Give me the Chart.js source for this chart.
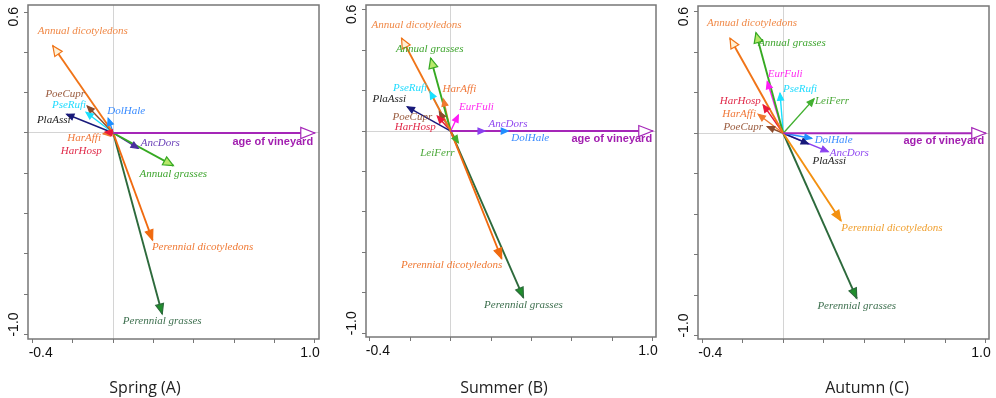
<!DOCTYPE html>
<html><head><meta charset="utf-8">
<script src="https://cdn.jsdelivr.net/npm/chart.js@4.4.1/dist/chart.umd.min.js"></script>
<style>
html,body{margin:0;padding:0;background:#fff;}
#wrap{position:relative;width:996px;height:398px;overflow:hidden;background:#fff;}
canvas{position:absolute;top:0;}
.ttl{position:absolute;top:375px;width:160px;text-align:center;font-family:'Open Sans',sans-serif;font-size:16px;color:#222;line-height:24px;}
</style></head><body>
<div id="wrap">
<canvas id="cA" width="330" height="398" style="left:0px"></canvas>
<canvas id="cB" width="330" height="398" style="left:330px"></canvas>
<canvas id="cC" width="336" height="398" style="left:660px"></canvas>
<div class="ttl" style="left:65px">Spring (A)</div>
<div class="ttl" style="left:424px">Summer (B)</div>
<div class="ttl" style="left:787px">Autumn (C)</div>
</div>
<script>
// ---------- DATA ----------
const xTicks = [-0.4, -0.2, 0.0, 0.2, 0.4, 0.6, 0.8, 1.0];
const yTicks = [-1.0, -0.8, -0.6, -0.4, -0.2, 0.0, 0.2, 0.4, 0.6];
const xTickLabels = [-0.4, 1.0];
const yTickLabels = [0.6, -1.0];

const springNames = ['age of vineyard','Annual dicotyledons','Annual grasses','Perennial dicotyledons','Perennial grasses','PoeCupr','PseRufi','DolHale','PlaAssi','HarAffi','HarHosp','AncDors'];
const springX = [1.0, -0.30, 0.298, 0.195, 0.243, -0.129, -0.135, -0.025, -0.231, -0.05, -0.04, 0.124];
const springY = [0.0, 0.433, -0.162, -0.531, -0.898, 0.134, 0.103, 0.073, 0.093, -0.004, 0.004, -0.076];

const summerNames = ['age of vineyard','Annual dicotyledons','Annual grasses','Perennial dicotyledons','Perennial grasses','PseRufi','HarAffi','PlaAssi','EurFuli','PoeCupr','HarHosp','AncDors','DolHale','LeiFerr'];
const summerX = [1.0, -0.243, -0.099, 0.252, 0.36, -0.102, -0.036, -0.215, 0.038, -0.056, -0.066, 0.17, 0.285, 0.038];
const summerY = [0.0, 0.459, 0.36, -0.63, -0.823, 0.195, 0.158, 0.12, 0.079, 0.096, 0.074, 0.0, 0.0, -0.058];

const autumnNames = ['age of vineyard','Annual dicotyledons','Annual grasses','Perennial dicotyledons','Perennial grasses','EurFuli','PseRufi','LeiFerr','HarHosp','HarAffi','PoeCupr','DolHale','PlaAssi','AncDors'];
const autumnX = [1.0, -0.263, -0.135, 0.285, 0.363, -0.079, -0.016, 0.152, -0.099, -0.124, -0.079, 0.14, 0.124, 0.222];
const autumnY = [0.0, 0.47, 0.497, -0.432, -0.816, 0.255, 0.198, 0.17, 0.14, 0.094, 0.033, -0.025, -0.053, -0.091];

// ---------- LAYOUT / STYLE ----------
const springLabelOff = [[-42,9],[30,-15],[0,8],[50,7],[0,7],[-22,-12],[-17,-7],[18,-7],[-13,6],[-19,4],[-24,19],[22,-5]];
const summerLabelOff = [[-41,8],[15,-13],[-1,-9],[-50,7],[0,8],[-20,-3],[16,-10],[-18,-8],[18,-8],[-27,5],[-22,11],[23,-7],[22,7],[-21,10]];
const autumnLabelOff = [[-42,8],[22,-15],[36,10],[51,7],[0,8],[18,-8],[20,-4],[18,2],[-23,-4],[-19,0],[-24,1],[22,2],[21,17],[21,1]];

const SERIF = 'italic 11px "Liberation Serif", "Times New Roman", serif';
const baseStyles = {
  'age of vineyard': {line:'#a526b8', label:'#a21fb0', fill:'#ffffff', len:14, half:5.5, width:2, font:'bold 11px "Liberation Sans", Arial, sans-serif'},
  'Annual dicotyledons': {line:'#f07418', label:'#f08846', fill:'#fff1d6', len:10, half:4.5, width:1.9},
  'Annual grasses': {line:'#36a922', label:'#3ea52e', fill:'#b8e86a', len:10, half:4.5, width:1.9},
  'Perennial dicotyledons': {line:'#f06a10', label:'#f07a35', fill:'#f06a10', len:10, half:4, width:1.9},
  'Perennial grasses': {line:'#2d6a3c', label:'#3d6f4e', fill:'#1f8f2c', len:10, half:4, width:1.9},
  PoeCupr: {line:'#8b4a2b', label:'#9a5b3e'},
  PseRufi: {line:'#19e0ff', label:'#22dcff'},
  DolHale: {line:'#1f8fff', label:'#3a8cff'},
  PlaAssi: {line:'#18197a', label:'#222222'},
  HarAffi: {line:'#f07a30', label:'#f0783a'},
  HarHosp: {line:'#e8183c', label:'#e02848'},
  AncDors: {line:'#8a40f0', label:'#9048f0'},
  EurFuli: {line:'#ff1cf6', label:'#ff2cf0'},
  LeiFerr: {line:'#42b030', label:'#4aa838'}
};
const springOverride = {AncDors:{line:'#4b2f9e', label:'#6a40b8'}};
const summerOverride = {};
const autumnOverride = {'Perennial dicotyledons':{line:'#f39010', label:'#f0a030', fill:'#f39010'}};

function styleFor(name, ov){
  return Object.assign({len:7, half:3, width:1.4, font:SERIF}, baseStyles[name], ov[name] || {});
}

// ---------- PLUGINS ----------
const arrowPlugin = {
  id:'arrowHeads',
  afterDatasetsDraw(chart){
    const ctx = chart.ctx;
    const metas = chart.data.datasets.map((ds,i)=>chart.getDatasetMeta(i));
    chart.data.datasets.forEach((ds,i)=>{
      const a = metas[i].data[0], b = metas[i].data[1];
      const st = ds.st;
      const ang = Math.atan2(b.y-a.y, b.x-a.x);
      const bx = b.x - st.len*Math.cos(ang), by = b.y - st.len*Math.sin(ang);
      const px = -Math.sin(ang)*st.half, py = Math.cos(ang)*st.half;
      ctx.save();
      ctx.beginPath();
      ctx.moveTo(b.x,b.y); ctx.lineTo(bx+px,by+py); ctx.lineTo(bx-px,by-py); ctx.closePath();
      ctx.fillStyle = st.fill || st.line; ctx.fill();
      ctx.lineWidth = 1.2; ctx.strokeStyle = st.line; ctx.lineJoin='miter'; ctx.stroke();
      ctx.restore();
    });
    chart.data.datasets.forEach((ds,i)=>{
      const b = metas[i].data[1];
      const st = ds.st;
      ctx.save();
      ctx.font = st.font; ctx.fillStyle = st.label;
      ctx.textAlign = 'center'; ctx.textBaseline = 'middle';
      ctx.fillText(ds.label, b.x + ds.off[0], b.y + ds.off[1]);
      ctx.restore();
    });
  }
};

const framePlugin = {
  id:'frame',
  afterDraw(chart){
    const {ctx, chartArea:ca, scales} = chart;
    const x = scales.x, y = scales.y;
    ctx.save();
    ctx.strokeStyle = '#777777'; ctx.lineWidth = 1.5;
    ctx.strokeRect(ca.left, ca.top, ca.right-ca.left, ca.bottom-ca.top);
    ctx.fillStyle = '#111'; ctx.font = '14px "Liberation Sans", Arial, sans-serif';
    ctx.textBaseline = 'middle';
    ctx.textAlign = 'left';
    ctx.fillText(xTickLabels[0].toFixed(1), x.getPixelForValue(xTickLabels[0]) - 4, ca.bottom + 14);
    ctx.textAlign = 'right';
    ctx.fillText(xTickLabels[1].toFixed(1), x.getPixelForValue(xTickLabels[1]) + 5, ca.bottom + 14);
    // rotated y labels
    ctx.save();
    ctx.translate(ca.left - 14, y.getPixelForValue(yTickLabels[0]) - 5);
    ctx.rotate(-Math.PI/2); ctx.textAlign = 'right';
    ctx.fillText(yTickLabels[0].toFixed(1), 0, 0);
    ctx.restore();
    ctx.save();
    ctx.translate(ca.left - 14, y.getPixelForValue(yTickLabels[1]) + 2);
    ctx.rotate(-Math.PI/2); ctx.textAlign = 'left';
    ctx.fillText(yTickLabels[1].toFixed(1), 0, 0);
    ctx.restore();
    ctx.restore();
  }
};

function gridOpts(){
  return {
    drawOnChartArea:true, drawTicks:true, tickLength:4,
    color: c => (c.tick && Math.abs(c.tick.value) < 1e-9) ? '#d4d4d4' : 'rgba(0,0,0,0)',
    tickColor:'#777777', lineWidth:1, tickWidth:1
  };
}

function makePanel(id, names, xs, ys, offs, ov, lay){
  const datasets = names.map((n,i)=>{
    const st = styleFor(n, ov);
    return {
      label:n, data:[{x:0,y:0},{x:xs[i],y:ys[i]}],
      showLine:true, borderColor:st.line, borderWidth:st.width,
      pointRadius:0, pointHoverRadius:0, fill:false, tension:0,
      st:st, off:offs[i]
    };
  });
  return new Chart(document.getElementById(id), {
    type:'scatter',
    data:{datasets},
    options:{
      responsive:false, animation:false, devicePixelRatio:1,
      layout:{padding:{left:0, right:lay.r, top:lay.t, bottom:0}},
      plugins:{legend:{display:false}, tooltip:{enabled:false}},
      scales:{
        x:{type:'linear', min:lay.xmin, max:lay.xmax,
           afterBuildTicks: s => { s.ticks = xTicks.map(v=>({value:v})); },
           ticks:{display:false}, grid:gridOpts(), border:{display:false},
           afterFit: s => { s.height = lay.h; }},
        y:{type:'linear', min:lay.ymin, max:lay.ymax,
           afterBuildTicks: s => { s.ticks = yTicks.map(v=>({value:v})); },
           ticks:{display:false}, grid:gridOpts(), border:{display:false},
           afterFit: s => { s.width = lay.w; }}
      }
    },
    plugins:[arrowPlugin, framePlugin]
  });
}

makePanel('cA', springNames, springX, springY, springLabelOff, springOverride,
  {w:28, h:59, r:11, t:5, xmin:-0.423, xmax:1.021, ymin:-1.022, ymax:0.635});
makePanel('cB', summerNames, summerX, summerY, summerLabelOff, summerOverride,
  {w:36, h:61, r:4, t:5, xmin:-0.419, xmax:1.016, ymin:-1.018, ymax:0.623});
makePanel('cC', autumnNames, autumnX, autumnY, autumnLabelOff, autumnOverride,
  {w:38, h:59, r:7, t:6, xmin:-0.421, xmax:1.016, ymin:-1.017, ymax:0.629});
</script>
</body></html>
